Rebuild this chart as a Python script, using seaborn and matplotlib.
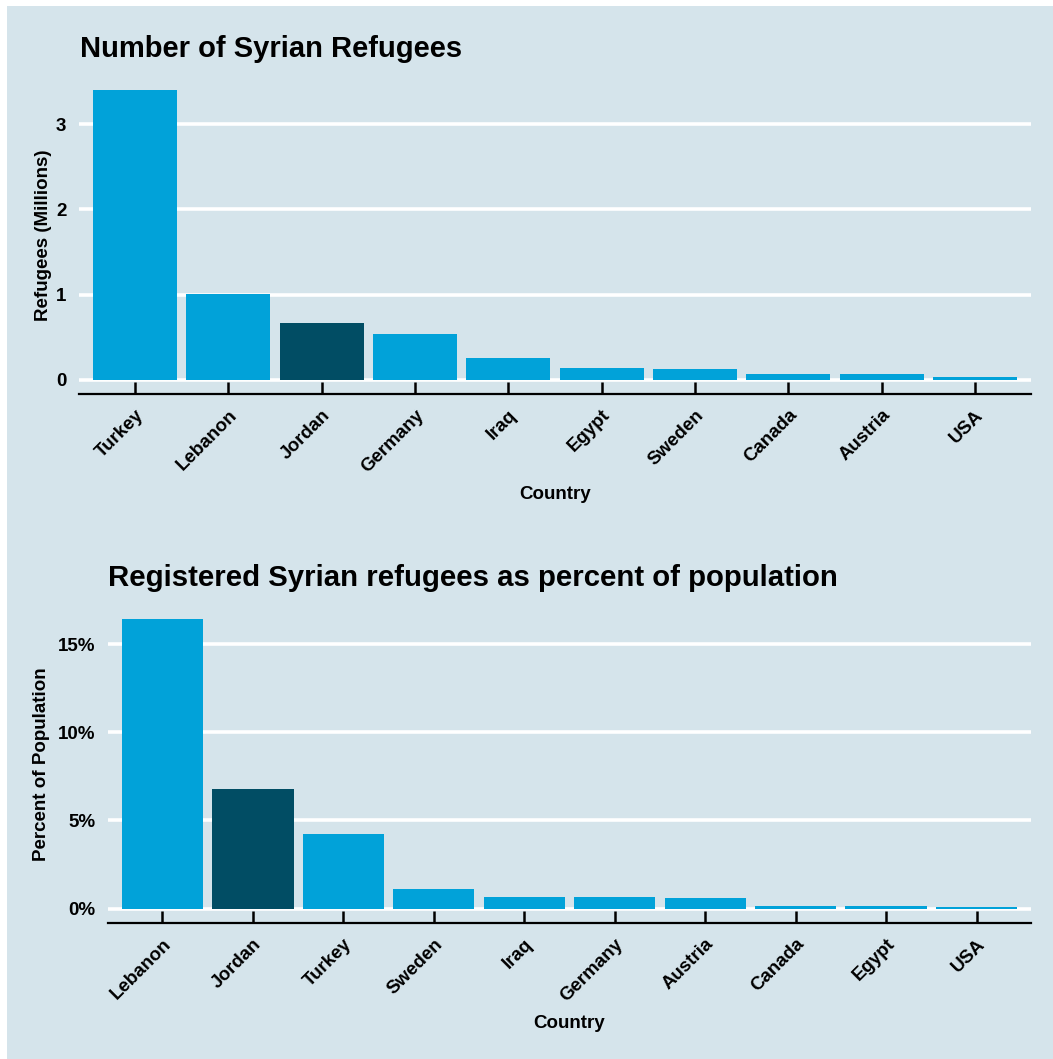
import matplotlib
matplotlib.use("Agg")
import matplotlib.pyplot as plt
import matplotlib.patches as mpatches
import pandas as pd
import seaborn as sns

# refugees, millions
countries_n = ["Turkey", "Lebanon", "Jordan", "Germany", "Iraq",
               "Egypt", "Sweden", "Canada", "Austria", "USA"]
refugees_m = [3.40, 1.01, 0.67, 0.54, 0.25, 0.14, 0.12, 0.06, 0.06, 0.035]

# refugees as % of population
countries_p = ["Lebanon", "Jordan", "Turkey", "Sweden", "Iraq",
               "Germany", "Austria", "Canada", "Egypt", "USA"]
pct_pop = [16.4, 6.8, 4.24, 1.13, 0.68, 0.68, 0.62, 0.17, 0.17, 0.06]

BG = "#d5e4eb"
LIGHT = "#01a2d9"
DARK = "#014d64"
highlight = "Jordan"

sns.set_theme(style="white", rc={"axes.facecolor": BG})
plt.rcParams["font.family"] = ["Liberation Sans", "DejaVu Sans"]
plt.rcParams["font.weight"] = "bold"

W, H = 1053, 1059
fig = plt.figure(figsize=(W / 100, H / 100), dpi=100, facecolor="white")
fig.patches.append(mpatches.Rectangle((7 / W, 0), 1, 1 - 6 / H,
                                      transform=fig.transFigure,
                                      facecolor=BG, edgecolor="none", zorder=-10))

ax1 = fig.add_axes([79 / W, 1 - 394 / H, (1031 - 79) / W, 318 / H])
ax2 = fig.add_axes([108 / W, 1 - 923 / H, (1031 - 108) / W, 318 / H])


def draw(ax, cats, vals, ylabel, ticks, ticklabels, ylab_x):
    df = pd.DataFrame({"Country": cats, "value": vals})
    pal = {c: (DARK if c == highlight else LIGHT) for c in cats}
    sns.barplot(data=df, x="Country", y="value", hue="Country", palette=pal,
                order=cats, width=0.9, saturation=1, legend=False, ax=ax,
                linewidth=0, zorder=3)
    top = max(vals)
    ax.set_xlim(-0.6, len(cats) - 0.4)
    ax.set_ylim(-0.05 * top, top * 1.05)
    ax.set_yticks(ticks)
    ax.set_yticklabels(ticklabels)
    for t in ticks:
        ax.axhline(t, color="white", lw=2.6, zorder=1)
    ax.set_facecolor(BG)
    for s in ["top", "right", "left"]:
        ax.spines[s].set_visible(False)
    ax.spines["bottom"].set_color("black")
    ax.spines["bottom"].set_linewidth(1.6)
    ax.tick_params(axis="x", bottom=True, direction="in", length=9, width=1.8,
                   color="black", pad=9, labelsize=13.5, labelcolor="black")
    ax.tick_params(axis="y", left=False, length=0, pad=9, labelsize=13.5,
                   labelcolor="black")
    for lab in ax.get_xticklabels():
        lab.set_rotation(45)
        lab.set_ha("right")
        lab.set_va("top")
        lab.set_rotation_mode("anchor")
        lab.set_fontweight("bold")
    for lab in ax.get_yticklabels():
        lab.set_fontweight("bold")
    ax.set_xlabel("Country", fontsize=13.5, fontweight="bold", color="black")
    ax.xaxis.set_label_coords(0.5, -0.29)
    ax.set_ylabel(ylabel, fontsize=13.5, fontweight="bold", color="black")
    ax.yaxis.set_label_coords(ylab_x, 0.5)


draw(ax1, countries_n, refugees_m, "Refugees (Millions)",
     [0, 1, 2, 3], ["0", "1", "2", "3"], -0.028)
draw(ax2, countries_p, pct_pop, "Percent of Population",
     [0, 5, 10, 15], ["0%", "5%", "10%", "15%"], -0.063)

fig.text(80 / W, 1 - 57 / H, "Number of Syrian Refugees", fontsize=21,
         fontweight="bold", va="baseline", ha="left", color="black")
fig.text(108 / W, 1 - 586 / H, "Registered Syrian refugees as percent of population",
         fontsize=21.2, fontweight="bold", va="baseline", ha="left", color="black")

fig.savefig("out.png", dpi=100, facecolor="white")
